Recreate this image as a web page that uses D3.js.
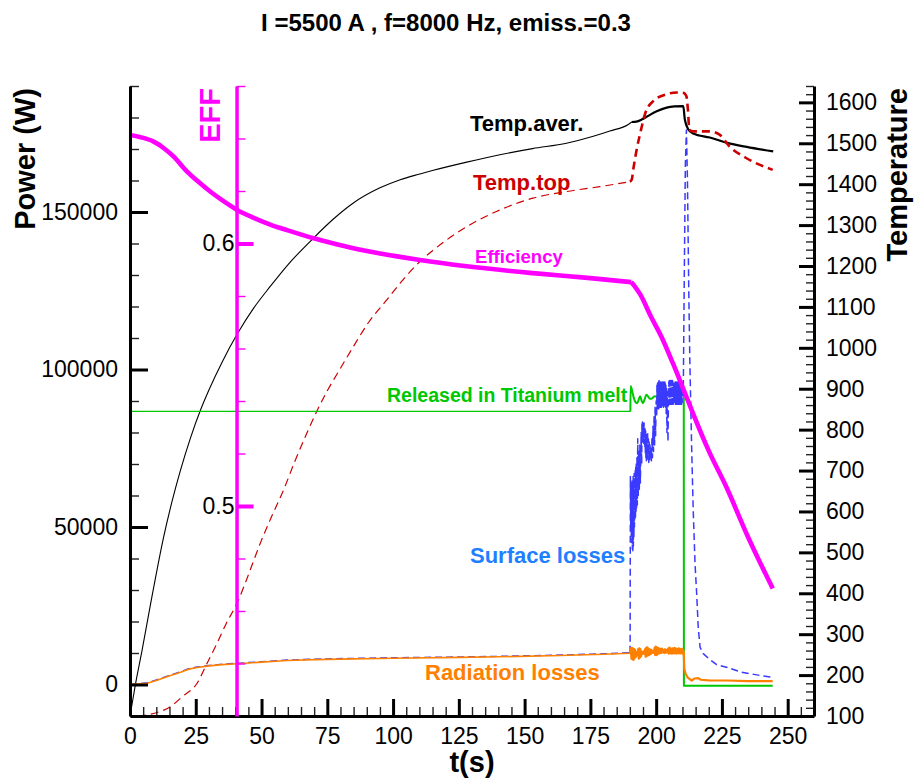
<!DOCTYPE html>
<html>
<head>
<meta charset="utf-8">
<script src="https://cdn.jsdelivr.net/npm/d3@7"></script>
<style>
  body { margin: 0; background: #fff; }
  svg text { font-family: "Liberation Sans", Arial, Helvetica, sans-serif; }
</style>
</head>
<body>
<svg id="chart" width="915" height="778"></svg>
<script>
// ---- data: [time (s), value] ----
const tempAver = [
  [0,100],[2,175],[4.6,261],[8,380],[12.8,538],[16,625],[19.2,701],[23,780],[26.8,848],
  [30,897],[35,965],[40.7,1033],[47,1097],[53.3,1150],[60,1203],[69.7,1268],[77,1313],
  [84.9,1354],[95,1391],[102.7,1411],[110.2,1425],[115.3,1434],[128,1454],[140.6,1472],
  [153,1487],[165.9,1500],[176.1,1517],[182.4,1530],[189.4,1546],[190.7,1552],[192.5,1553],
  [194.5,1558],[197,1567],[200.2,1578],[204,1587],[207,1590],[210.3,1591],[210.9,1558],
  [212.2,1534],[214.1,1524],[220.4,1514],[227,1501],[234.4,1491],[244.5,1480]
];

const tempTop = [
  [3,100],[10,108],[15.4,123],[20,148],[25.5,180],[29,225],[33.1,278],[36.5,325],[40.7,376],
  [45,445],[49.5,522],[54,590],[58.4,653],[62.5,720],[67.2,791],[71,845],[75,895],[80,950],
  [84.9,1003],[91,1065],[97.6,1117],[102.7,1158],[110.2,1211],[115.3,1239],[128,1296],
  [140.6,1337],[153.2,1366],[165.9,1382],[178.6,1394],[190,1406],[190.7,1411],[191.4,1440],
  [192.6,1485],[194,1526],[195.9,1574],[198.9,1603],[204,1620],[208,1624],[210.5,1623],
  [211.5,1615],[212.1,1580],[212.6,1533],[214,1529],[220.3,1529],[224.1,1521],[227.9,1492],
  [234.2,1464],[244.3,1435]
];

const efficiency = [
  [0,0.6413],[4,0.6405],[9,0.6388],[13,0.6362],[16.6,0.6331],[21.7,0.6274],[26,0.6235],
  [30.6,0.6197],[35,0.6165],[40.7,0.6128],[47,0.6098],[53.3,0.6072],[60,0.6050],[69.8,0.6020],
  [77,0.6001],[84.9,0.5982],[95,0.5962],[102.7,0.5949],[110.2,0.5937],[128,0.5913],
  [153.2,0.5887],[175,0.5868],[190.5,0.5853],[192,0.5835],[194,0.5805],[198,0.5722],
  [202,0.5645],[206.4,0.5543],[211.5,0.5416],[214,0.5353],[220,0.5210],[226.6,0.5074],
  [235,0.4880],[244.3,0.4686]
];

const releasedMelt = [
  [0,86700],[190.2,86700],[190.3,94800],[190.8,93500],[191.5,91000],[192.3,89500],[192.8,89300],
  [193.4,90500],[193.9,91500],[194.5,90000],[195,89300],[195.6,90500],[196.3,92000],
  [196.9,91500],[197.6,90700],[198.4,90800],[199.2,91400],[200.2,91500],[201,91000],
  [201.7,91000],[203,91500],[205,92000],[207,92000],[209,92000],[210.5,92000],
  [210.55,-400],[244.3,-400]
];

const surfaceLosses = [
  [0,0],[6.5,550],[10,1450],[15.4,3000],[19.2,4050],[22,4950],[25.5,5550],[30,6050],[35,6450],
  [40.7,6720],[50,7250],[59.6,7770],[70,8050],[84.9,8300],[100,8500],[125.4,8750],[140,8950],
  [163.4,9350],[180,9750],[190.1,10100],
  [190.2,66000],[190.35,50000],[190.45,64000],[190.55,47000],[190.65,63000],[190.75,45000],
  [190.85,65000],[190.95,43000],[191.05,64000],[191.15,42500],[191.25,66000],[191.35,44000],
  [191.45,65000],[191.55,47000],[191.65,67000],[191.75,50000],[191.85,66000],[191.95,52000],
  [192.05,68000],[192.15,53000],[192.25,69000],[192.35,55000],[192.45,70000],[192.55,56000],
  [192.7,72000],[192.85,57000],[193,78000],[193.2,60000],[193.4,74000],[193.6,62000],
  [193.8,76000],[194,64000],[194.3,80000],[194.5,70000],
  [194.6,83000],[194.7,77000],[194.8,83300],[194.9,77500],[195,83000],[195.1,77000],
  [195.2,82500],[195.3,76500],[195.4,83000],[195.5,78000],[195.6,82000],[195.7,75000],
  [195.8,81000],[195.9,73000],[196,80500],[196.1,72000],[196.2,80000],[196.3,71000],
  [196.45,79000],[196.6,72000],[196.75,80000],[196.9,71500],[197.05,78000],[197.2,70500],
  [197.35,77000],[197.5,71000],[197.65,76000],[197.8,72000],[198,75000],[198.2,71000],
  [198.4,78000],[198.6,72000],[198.8,82000],[199,74000],[199.2,85000],[199.4,76000],
  [199.6,88000],[199.8,79000],[200,90000],[200.2,85000],
  [200.3,95000],[200.4,88000],[200.5,96000],[200.6,87600],[200.7,96500],[200.8,88000],
  [200.9,96000],[201,87500],[201.1,96500],[201.2,88000],[201.3,96000],[201.4,88500],
  [201.5,96500],[201.6,88000],[201.7,96000],[201.8,88500],[201.9,96500],[202,88000],
  [202.1,96000],[202.2,89000],[202.3,96500],[202.4,88500],[202.5,96000],[202.6,89000],
  [202.7,95500],[202.8,88000],[202.9,96000],[203,89000],[203.1,95500],[203.2,88500],
  [203.3,96000],[203.4,89000],[203.5,95500],[203.6,88000],[203.7,95000],[203.8,86000],
  [203.95,94000],[204.1,80000],[204.3,93000],[204.5,77000],[204.7,92000],
  [204.8,96000],[204.9,89000],[205,96500],[205.1,89500],[205.2,96000],[205.3,89000],
  [205.4,96500],[205.5,89500],[205.6,96000],[205.7,89000],[205.8,96500],[205.9,89500],
  [206,96000],[206.1,89000],[206.2,96500],[206.3,89500],[206.4,96000],[206.5,89000],
  [206.6,95500],[206.7,89500],[206.8,96000],[206.9,89000],[207,95500],[207.1,89500],
  [207.2,96000],[207.3,89000],[207.4,95500],[207.5,89500],[207.6,96000],[207.7,89000],
  [207.8,95500],[207.9,89500],[208,96000],[208.1,89000],[208.2,95500],[208.3,89500],
  [208.4,96000],[208.5,89000],[208.6,95500],[208.7,89500],[208.8,95000],[208.9,89000],
  [209,95500],[209.1,89500],[209.2,95000],[209.3,89000],[209.4,95500],[209.5,89500],
  [209.6,95000],[209.7,89000],[209.8,95000],[209.9,89500],[210,94000],[210.3,92000],
  [210.7,130000],[211.1,165000],[211.5,176000],[211.9,160000],[212.4,125000],[212.8,103000],
  [213.5,75000],[214.1,55000],[214.8,38000],[215.4,28900],[216,18000],[216.7,11800],
  [217.9,9800],[220,8200],[223,6300],[226.7,5500],[232,4000],[239.5,2860],[244.3,2300]
];

const radiationLosses = [
  [0,0],[6.5,400],[10,1300],[15.4,2860],[19.2,3900],[22,4800],[25.5,5400],[30,5900],[35,6300],
  [40.7,6570],[50,7100],[59.6,7620],[70,7900],[84.9,8150],[100,8350],[125.4,8600],[140,8800],
  [163.4,9200],[180,9600],[190,9940],
  [190.2,10000],[190.4,11500],[190.6,8200],[190.8,11600],[191,8000],[191.2,11400],[191.4,7800],
  [191.6,11200],[191.8,8300],[192,11000],[192.3,8800],[192.6,10200],[192.9,9400],[193.2,11300],
  [193.4,8200],[193.6,11500],[193.8,8500],[194,11200],[194.3,9000],[194.6,10400],[194.9,9800],
  [195.2,10500],[195.5,9700],[195.8,11200],[196,8800],[196.2,11600],[196.4,9000],[196.6,11800],
  [196.8,9200],[197,11500],[197.3,9300],[197.6,11200],[197.9,9600],[198.2,11000],[198.5,10000],
  [198.8,10600],[199.1,10100],[199.4,11600],[199.6,9400],[199.8,12000],[200,9300],[200.2,11800],
  [200.4,9500],[200.6,11600],[200.8,9800],[201,11500],[201.3,9900],[201.6,11300],[201.9,10000],
  [202.2,11400],[202.5,10200],[202.8,11000],[203.1,10000],[203.4,11200],[203.7,10100],
  [204,11000],[204.3,10200],[204.6,11400],[204.8,9800],[205,11700],[205.2,10000],[205.4,11500],
  [205.6,9900],[205.8,11200],[206,9800],[206.2,11500],[206.4,10000],[206.6,11300],[206.8,9900],
  [207,11600],[207.2,10000],[207.4,11400],[207.6,9800],[207.8,11300],[208,10000],[208.2,11200],
  [208.4,9900],[208.6,11500],[208.8,10000],[209,11300],[209.2,9900],[209.4,11200],[209.6,10000],
  [209.8,11300],[210,9800],[210.2,11000],[210.5,10200],
  [210.7,5000],[211.2,3400],[212,2200],[213.5,1270],[214.5,1900],[216,2000],[217,1500],
  [220,1300],[227,1270],[235,1100],[244.3,1050]
];

// ---- axis ticks and labels ----
const timeTicks = [0, 25, 50, 75, 100, 125, 150, 175, 200, 225, 250];
const powerTicks = [0, 50000, 100000, 150000];
const tempTicks = [100, 200, 300, 400, 500, 600, 700, 800, 900, 1000, 1100, 1200, 1300, 1400, 1500, 1600];
const effTicks = [0.5, 0.6];

const titleText = "I =5500 A , f=8000 Hz, emiss.=0.3";

// ---- layout ----
const svg = d3.select("#chart");
const plotL = 130, plotR = 814, plotT = 86, plotB = 716;

const x = d3.scaleLinear().domain([0, 260]).range([plotL, plotR]);
const yP = d3.scaleLinear().domain([-10000, 190000]).range([plotB, plotT]);
const yT = d3.scaleLinear().domain([100, 1640]).range([plotB, plotT]);
const yE = d3.scaleLinear().domain([0.42, 0.66]).range([plotB, plotT]);
const effAxisTime = 40.5;

const COL = {
  aver: "#000000",
  top: "#cc0000",
  eff: "#ff00ff",
  melt: "#00c800",
  surf: "#3a3aff",
  surfLabel: "#1f80ff",
  rad: "#ff8000"
};

// each series is drawn in two parts: before the melt regime (thin) and after it (heavier)
const SPLIT = 190;
function drawSeries(data, ys, color, wThin, wThick, dash, curve) {
  const gen = d3.line().x(d => x(d[0])).y(d => ys(d[1])).curve(curve || d3.curveLinear);
  const idx = data.findIndex(d => d[0] >= SPLIT);
  const early = data.slice(0, idx + 1);
  const late = data.slice(idx);
  [[early, wThin], [late, wThick]].forEach(([part, w]) => {
    if (part.length < 2) return;
    svg.append("path")
      .datum(part)
      .attr("d", gen)
      .attr("fill", "none")
      .attr("stroke", color)
      .attr("stroke-width", w)
      .attr("stroke-linejoin", "round")
      .attr("stroke-dasharray", dash || null);
  });
}

const smooth = d3.curveMonotoneX;
drawSeries(tempAver, yT, COL.aver, 1.1, 2.2, null, smooth);
drawSeries(tempTop, yT, COL.top, 1.2, 2.6, "8,5", smooth);
drawSeries(releasedMelt, yP, COL.melt, 1.3, 2, null, smooth);
drawSeries(surfaceLosses, yP, COL.surf, 1.4, 1.5, "7,4");
drawSeries(radiationLosses, yP, COL.rad, 1.6, 2.2, null);
drawSeries(efficiency, yE, COL.eff, 4.6, 4.6, null, smooth);

// ---- axes ----
function styleAxis(g, color, domainW, tickW, fontSize) {
  g.select(".domain").attr("stroke", color).attr("stroke-width", domainW);
  g.selectAll(".tick line").attr("stroke", color).attr("stroke-width", tickW);
  g.selectAll(".tick text").attr("fill", "#000").attr("font-size", fontSize)
    .style("font-family", '"Liberation Sans", Arial, sans-serif');
  g.attr("font-family", null).attr("font-size", null);
}

// minor ticks
function minor(axisGen, vals, size, tx, ty, color) {
  const g = svg.append("g").attr("transform", `translate(${tx},${ty})`)
    .call(axisGen.tickValues(vals).tickSize(size).tickSizeOuter(0).tickFormat(""));
  g.select(".domain").remove();
  g.selectAll(".tick line").attr("stroke", color).attr("stroke-width", 1.4);
}

minor(d3.axisBottom(x), d3.range(0, 261, 5), -9, 0, plotB, "#222");
minor(d3.axisLeft(yP), d3.range(-10000, 190001, 10000), -9, plotL, 0, "#222");
minor(d3.axisRight(yT), d3.range(100, 1641, 20), -8, plotR, 0, "#222");
minor(d3.axisLeft(yE), d3.range(21, 34).map(k => k * 0.02), -9, x(effAxisTime), 0, COL.eff);

// major axes
const gx = svg.append("g").attr("transform", `translate(0,${plotB})`)
  .call(d3.axisBottom(x).tickValues(timeTicks).tickSize(-17).tickSizeOuter(0).tickPadding(12).tickFormat(d3.format("d")));
styleAxis(gx, "#000", 3, 3, 23);

const gyP = svg.append("g").attr("transform", `translate(${plotL},0)`)
  .call(d3.axisLeft(yP).tickValues(powerTicks).tickSize(-18).tickSizeOuter(0).tickPadding(12).tickFormat(d3.format("d")));
styleAxis(gyP, "#000", 3, 3, 23);

const gyT = svg.append("g").attr("transform", `translate(${plotR},0)`)
  .call(d3.axisRight(yT).tickValues(tempTicks).tickSize(-15).tickSizeOuter(0).tickPadding(12).tickFormat(d3.format("d")));
styleAxis(gyT, "#000", 3, 3, 23);

const gyE = svg.append("g").attr("transform", `translate(${x(effAxisTime)},0)`)
  .call(d3.axisLeft(yE).tickValues(effTicks).tickSize(-17).tickSizeOuter(0).tickPadding(2).tickFormat(d3.format(".1f")));
styleAxis(gyE, COL.eff, 3.5, 4, 23);

// ---- titles ----
svg.append("text").attr("x", 446).attr("y", 31).attr("text-anchor", "middle")
  .attr("font-size", 24).attr("font-weight", "bold").text(titleText);

svg.append("text").attr("transform", "translate(35,88) rotate(-90)")
  .attr("text-anchor", "end").attr("font-size", 29).attr("font-weight", "bold").text("Power (W)");

svg.append("text").attr("transform", "translate(907,88) rotate(-90)")
  .attr("text-anchor", "end").attr("font-size", 29).attr("font-weight", "bold").text("Temperature");

svg.append("text").attr("transform", "translate(220,88) rotate(-90)")
  .attr("text-anchor", "end").attr("font-size", 29).attr("font-weight", "bold")
  .attr("fill", COL.eff).text("EFF");

svg.append("text").attr("x", (plotL + plotR) / 2).attr("y", 772).attr("text-anchor", "middle")
  .attr("font-size", 29).attr("font-weight", "bold").text("t(s)");

// ---- series labels ----
const labels = [
  { text: "Temp.aver.", x: 470, y: 131, size: 22, color: COL.aver },
  { text: "Temp.top", x: 473, y: 190, size: 22, color: COL.top },
  { text: "Efficiency", x: 475, y: 262.5, size: 18.6, color: COL.eff },
  { text: "Released in Titanium melt", x: 387, y: 401.5, size: 19.5, color: COL.melt },
  { text: "Surface losses", x: 470, y: 563, size: 22, color: COL.surfLabel },
  { text: "Radiation losses", x: 425, y: 680, size: 22, color: COL.rad }
];
svg.selectAll("text.series-label").data(labels).enter().append("text")
  .attr("class", "series-label")
  .attr("x", d => d.x).attr("y", d => d.y)
  .attr("font-size", d => d.size).attr("font-weight", "bold")
  .attr("fill", d => d.color).text(d => d.text);
</script>
</body>
</html>
